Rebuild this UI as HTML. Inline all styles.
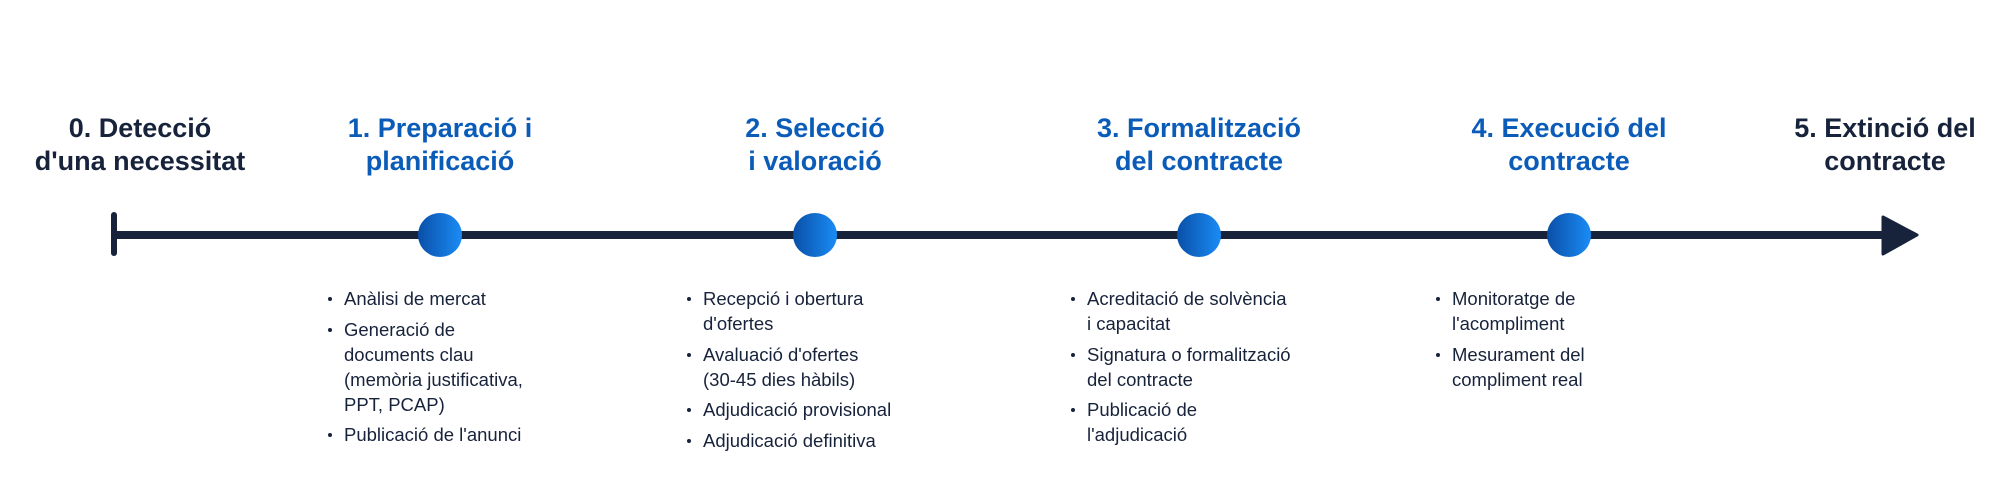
<!DOCTYPE html>
<html><head><meta charset="utf-8"><style>
body{margin:0;width:2000px;height:500px;background:#fff;position:relative;overflow:hidden;font-family:"Liberation Sans",sans-serif}
.t{position:absolute;width:400px;text-align:center;font-weight:bold;font-size:27px;line-height:33px;color:#17223b}
.b{color:#0b5cb8}
ul{position:absolute;margin:0;padding:0 0 0 18px;font-size:18.5px;line-height:25px;color:#17223b;list-style:none}
li{position:relative;margin-bottom:5.5px}
li:before{content:"";position:absolute;left:-16px;top:11px;width:4px;height:4px;border-radius:50%;background:#17223b}
</style></head><body>
<svg width="2000" height="500" style="position:absolute;left:0;top:0">
<defs><linearGradient id="g" x1="0" x2="1"><stop offset="0" stop-color="#0a4fa8"/><stop offset="1" stop-color="#1a8cf5"/></linearGradient></defs>
<line x1="114" y1="235" x2="1890" y2="235" stroke="#17223b" stroke-width="8"/>
<line x1="114" y1="215" x2="114" y2="253" stroke="#17223b" stroke-width="6" stroke-linecap="round"/>
<polygon points="1883,217 1917,235 1883,254" fill="#17223b" stroke="#17223b" stroke-width="3" stroke-linejoin="round"/>
<circle cx="440" cy="235" r="22" fill="url(#g)"/>
<circle cx="815" cy="235" r="22" fill="url(#g)"/>
<circle cx="1199" cy="235" r="22" fill="url(#g)"/>
<circle cx="1569" cy="235" r="22" fill="url(#g)"/>
</svg>
<div class="t" style="left:-60px;top:112px">0. Detecció<br>d'una necessitat</div>
<div class="t b" style="left:240px;top:112px">1. Preparació i<br>planificació</div>
<div class="t b" style="left:615px;top:112px">2. Selecció<br>i valoració</div>
<div class="t b" style="left:999px;top:112px">3. Formalització<br>del contracte</div>
<div class="t b" style="left:1369px;top:112px">4. Execució del<br>contracte</div>
<div class="t" style="left:1685px;top:112px">5. Extinció del<br>contracte</div>
<ul style="left:326px;top:286px;width:300px">
<li>Anàlisi de mercat</li>
<li>Generació de<br>documents clau<br>(memòria justificativa,<br>PPT, PCAP)</li>
<li>Publicació de l'anunci</li>
</ul>
<ul style="left:685px;top:286px;width:300px">
<li>Recepció i obertura<br>d'ofertes</li>
<li>Avaluació d'ofertes<br>(30-45 dies hàbils)</li>
<li>Adjudicació provisional</li>
<li>Adjudicació definitiva</li>
</ul>
<ul style="left:1069px;top:286px;width:300px">
<li>Acreditació de solvència<br>i capacitat</li>
<li>Signatura o formalització<br>del contracte</li>
<li>Publicació de<br>l'adjudicació</li>
</ul>
<ul style="left:1434px;top:286px;width:300px">
<li>Monitoratge de<br>l'acompliment</li>
<li>Mesurament del<br>compliment real</li>
</ul>
</body></html>
